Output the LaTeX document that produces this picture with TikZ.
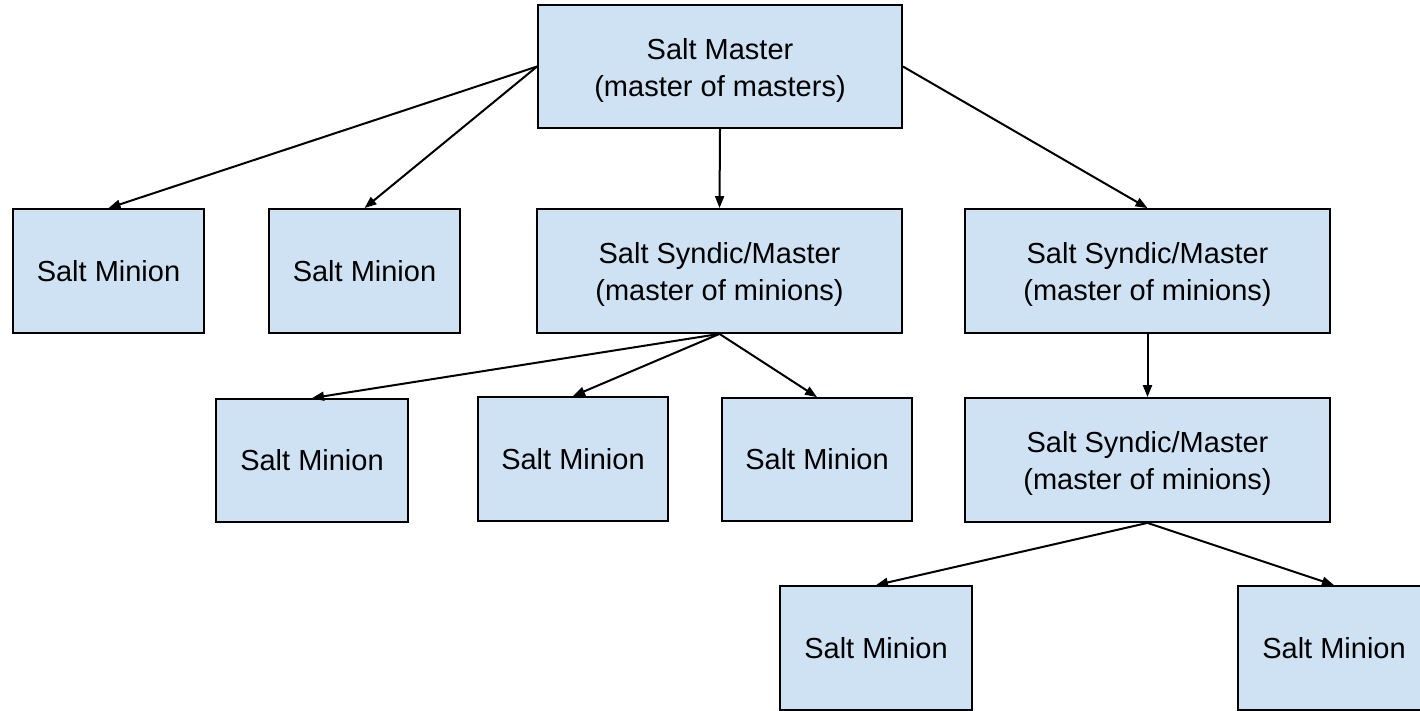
\documentclass[tikz,border=0pt]{standalone}
\usepackage{fontspec}
\setmainfont{Liberation Sans}
\usetikzlibrary{arrows.meta}
\definecolor{boxfill}{HTML}{CFE2F3}
\newcommand{\twol}[2]{\raisebox{-4pt}[\height][\depth]{\begin{tabular}{@{}c@{}}#1\\#2\end{tabular}}}
\begin{document}
\begin{tikzpicture}[x=1pt,y=-1pt,
  box/.style={draw=black, fill=boxfill, line width=1.8pt, inner sep=0pt,
    align=center, font=\fontsize{29}{37}\selectfont},
  conn/.style={line width=2pt, -{Triangle[length=12pt,width=9pt]}}]
\useasboundingbox (0,0) rectangle (1420,711);
\clip (0,0) rectangle (1420,711);
\node[box, minimum width=364pt, minimum height=123pt] (master) at (720,66.5) {\twol{Salt Master}{(master of masters)}};
\node[box, minimum width=191pt, minimum height=124pt] (m1) at (108.5,271) {Salt Minion};
\node[box, minimum width=191pt, minimum height=124pt] (m2) at (364.5,271) {Salt Minion};
\node[box, minimum width=365pt, minimum height=124pt] (s1) at (719.5,271) {\twol{Salt Syndic/Master}{(master of minions)}};
\node[box, minimum width=365pt, minimum height=124pt] (s2) at (1147.5,271) {\twol{Salt Syndic/Master}{(master of minions)}};
\node[box, minimum width=192pt, minimum height=123pt] (m3) at (312,460.5) {Salt Minion};
\node[box, minimum width=190pt, minimum height=124pt] (m4) at (573,459) {Salt Minion};
\node[box, minimum width=190pt, minimum height=123pt] (m5) at (817,459.5) {Salt Minion};
\node[box, minimum width=365pt, minimum height=124pt] (s3) at (1147.5,460) {\twol{Salt Syndic/Master}{(master of minions)}};
\node[box, minimum width=192pt, minimum height=124pt] (m6) at (876,648) {Salt Minion};
\node[box, minimum width=192pt, minimum height=124pt] (m7) at (1334,648) {Salt Minion};
\draw[conn] (master.west) -- (m1.north);
\draw[conn] (master.west) -- (m2.north);
\draw[conn] (master.south) -- (s1.north);
\draw[conn] (master.east) -- (s2.north);
\draw[conn] (s1.south) -- (m3.north);
\draw[conn] (s1.south) -- (m4.north);
\draw[conn] (s1.south) -- (m5.north);
\draw[conn] (s2.south) -- (s3.north);
\draw[conn] (s3.south) -- (m6.north);
\draw[conn] (s3.south) -- (m7.north);
\end{tikzpicture}
\end{document}
